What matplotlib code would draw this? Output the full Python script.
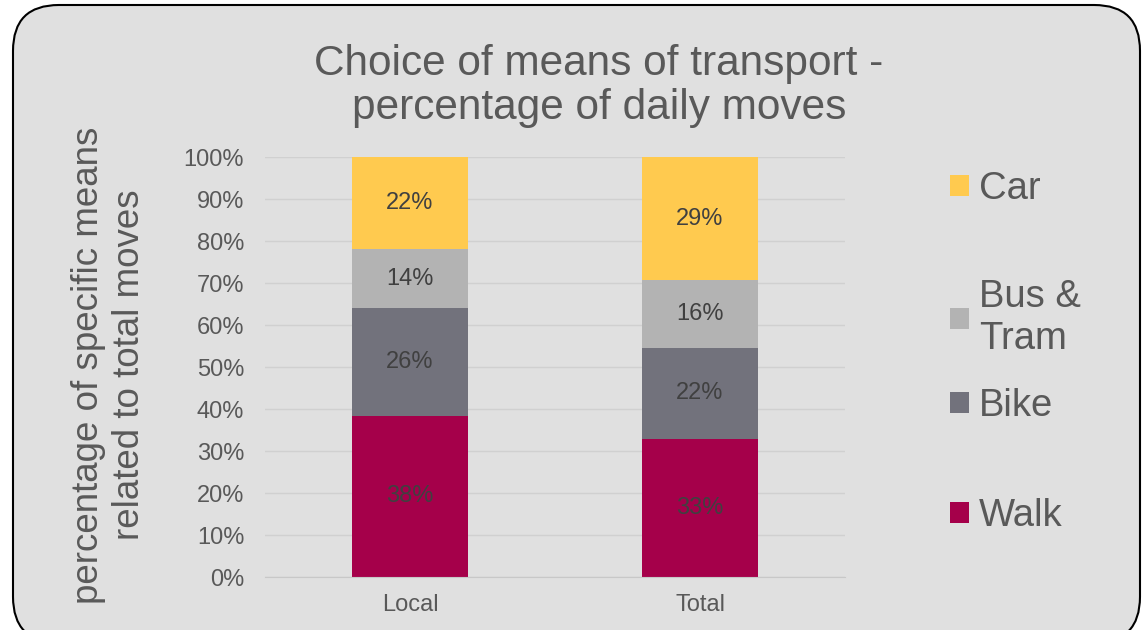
import matplotlib
matplotlib.use("Agg")
import matplotlib.pyplot as plt
from matplotlib.patches import FancyBboxPatch, Patch
import numpy as np

plt.rcParams['font.family'] = ['Liberation Sans', 'DejaVu Sans']

categories = ["Local", "Total"]
series_names = ["Walk", "Bike", "Bus & Tram", "Car"]
legend_labels = ["Walk", "Bike", "Bus &\nTram", "Car"]
walk = [38.4, 32.9]
bike = [25.6, 21.6]
bus_tram = [14.1, 16.2]
car = [21.9, 29.3]
value_labels = [["38%", "33%"], ["26%", "22%"], ["14%", "16%"], ["22%", "29%"]]
colors = ["#a5004a", "#72727c", "#b3b3b3", "#ffca4f"]
yticks = list(range(0, 101, 10))

W, H = 1146, 630
fig = plt.figure(figsize=(W / 100, H / 100), dpi=100, facecolor="white")

# rounded chart-area box
box = FancyBboxPatch((13 / W, -0.02), (1140 - 13) / W, 1 - 5 / H + 0.02,
                     boxstyle="round,pad=0,rounding_size=0.04",
                     transform=fig.transFigure, facecolor="#e0e0e0",
                     edgecolor="black", linewidth=1.5, mutation_aspect=W / H,
                     zorder=-10)
fig.patches.append(box)

ax = fig.add_axes([265 / W, 1 - 577 / H, (845 - 265) / W, (577 - 157) / H])
ax.set_facecolor("none")
ax.set_zorder(2)

x = np.arange(len(categories))
bottom = np.zeros(len(categories))
for vals, name, col, labs in zip([walk, bike, bus_tram, car], series_names, colors, value_labels):
    vals = np.array(vals)
    ax.bar(x, vals, width=0.4, bottom=bottom, color=col, label=name, zorder=3)
    for xi, b, v, lab in zip(x, bottom, vals, labs):
        ax.text(xi, b + v / 2, lab, ha="center", va="center", fontsize=17,
                color="#404040", zorder=4)
    bottom = bottom + vals

ax.set_xlim(-0.5, 1.5)
ax.set_ylim(0, 100)
ax.set_yticks(yticks)
ax.set_yticklabels([f"{t}%" for t in yticks])
ax.set_xticks(x)
ax.set_xticklabels(categories)
ax.tick_params(axis="y", length=0, pad=15, labelsize=17, labelcolor="#595959")
ax.tick_params(axis="x", length=0, pad=12, labelsize=17, labelcolor="#595959")
ax.grid(axis="y", color="#d0d0d0", linewidth=1, zorder=0)
for s in ["top", "right", "left"]:
    ax.spines[s].set_visible(False)
ax.spines["bottom"].set_color("#c8c8c8")
ax.spines["bottom"].set_zorder(5)

fig.text(599 / W, 1 - 86 / H, "Choice of means of transport -\npercentage of daily moves",
         ha="center", va="center", fontsize=30.5, color="#595959", linespacing=1.15)
fig.text(109 / W, 1 - 365 / H, "percentage of specific means\nrelated to total moves",
         ha="center", va="center", rotation=90, fontsize=26.5, color="#595959",
         multialignment="center", linespacing=1.2)

# legend entries (Excel spaces them unevenly), one legend box per entry
legend_y = [516, 406, 318, 189]  # pixel centres from top: Walk, Bike, Bus & Tram, Car
for col, lab, yc in zip(colors, legend_labels, legend_y):
    lg = fig.legend([Patch(facecolor=col)], [lab], loc="center left",
                    bbox_to_anchor=(950 / W, 1 - yc / H), frameon=False,
                    fontsize=27.5, labelcolor="#595959", handlelength=0.5,
                    handleheight=0.5, handletextpad=0.25,
                    borderaxespad=0, borderpad=0)

fig.savefig("out.png", dpi=100, facecolor="white")
